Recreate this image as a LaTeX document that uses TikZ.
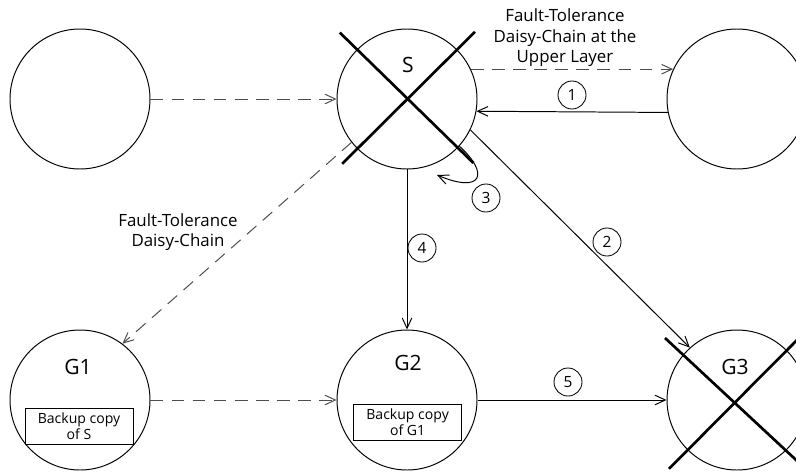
\documentclass[tikz,border=0pt]{standalone}
\usepackage{fontspec}
\setmainfont{Open Sans}
\usetikzlibrary{arrows.meta, calc}

\begin{document}
\begin{tikzpicture}[
    x=1cm,y=1cm,
    >={Straight Barb[length=2.6mm,width=2.4mm]},
    font=\fontsize{12}{14.5}\selectfont,
    member/.style={
        draw, circle, line width=0.7pt,
        minimum size=3.5cm, inner sep=0pt
    },
    backup/.style={
        draw, line width=0.7pt,
        minimum height=0.9cm,
        minimum width=2.7cm,
        align=center, inner sep=1pt,
        font=\fontsize{10}{11}\selectfont
    },
    step no/.style={
        draw, circle, line width=0.6pt,
        minimum size=0.7cm, inner sep=0pt,
        font=\fontsize{11}{12}\selectfont
    },
    tag/.style={font=\fontsize{15}{17}\selectfont},
    sig/.style={->, line width=0.7pt},
    chain/.style={->, line width=0.7pt, black!70,
        dash pattern=on 9pt off 6pt},
    failed/.style={line width=1.9pt, line cap=butt}
]
\useasboundingbox (0,0) rectangle (19.9,11.8);

% --- Upper layer ---
\node[member] (L) at (2,9.325) {};
\node[member] (S) at (10.175,9.325) {};
\node[member] (R) at (18.425,9.325) {};

% --- Lower layer ---
\node[member] (G1) at (2,1.8) {};
\node[member] (G2) at (10.175,1.8) {};
\node[member] (G3) at (18.425,1.8) {};

% --- Names and backup copies ---
\node[tag] (sname) at (10.2,10.175) {S};
\node[tag] (g1name) at (1.95,2.625) {G1};
\node[tag] (g2name) at (10.2,2.725) {G2};
\node[tag] (g3name) at (18.375,2.625) {G3};

\node[backup] (bk1) at (1.975,1.15) {Backup copy\\of S};
\node[backup] (bk2) at (10.19,1.24) {Backup copy\\of G1};

% --- Daisy chains ---
\draw[chain] (L.east) -- (S.west);
\draw[chain] (S.25) -- (R.155);
\draw[chain] (S.-142) -- (G1.53.6);
\draw[chain] (G1.east) -- (G2.west);

\node[align=center] (uplabel) at (14.125,10.85)
{Fault-Tolerance\\Daisy-Chain at the\\Upper Layer};
\node[align=center] (lowlabel) at (4.45,6.0)
{Fault-Tolerance\\Daisy-Chain};

% --- Recovery steps ---
\draw[sig] (R.-169.3) -- (S.-10.7);
\draw[sig] (S.-26) -- (G3.132);
\coordinate (tip3) at (10.925,7.425);
\draw[sig] (S.-42) .. controls (12.25,7.45) and (12.05,6.95) .. (tip3);
\draw[sig] (S.south) -- (G2.north);
\draw[sig] (G2.east) -- (G3.west);

\node[step no] (n1) at (14.3,9.425) {1};
\node[step no] (n2) at (15.175,5.75) {2};
\node[step no] (n3) at (12.15,6.85) {3};
\node[step no] (n4) at (10.55,5.6) {4};
\node[step no] (n5) at (14.2,2.25) {5};

% --- Failed nodes ---
\draw[failed] ($(S)+(-1.68,1.66)$) -- ($(S)+(1.66,-1.6)$);
\draw[failed] ($(S)+(1.7,1.68)$) -- ($(S)+(-1.62,-1.62)$);
\draw[failed] ($(G3)+(-1.8,1.55)$) -- ($(G3)+(1.8,-1.8)$);
\draw[failed] ($(G3)+(-1.7,-1.72)$) -- ($(G3)+(1.8,1.8)$);

\end{tikzpicture}
\end{document}
